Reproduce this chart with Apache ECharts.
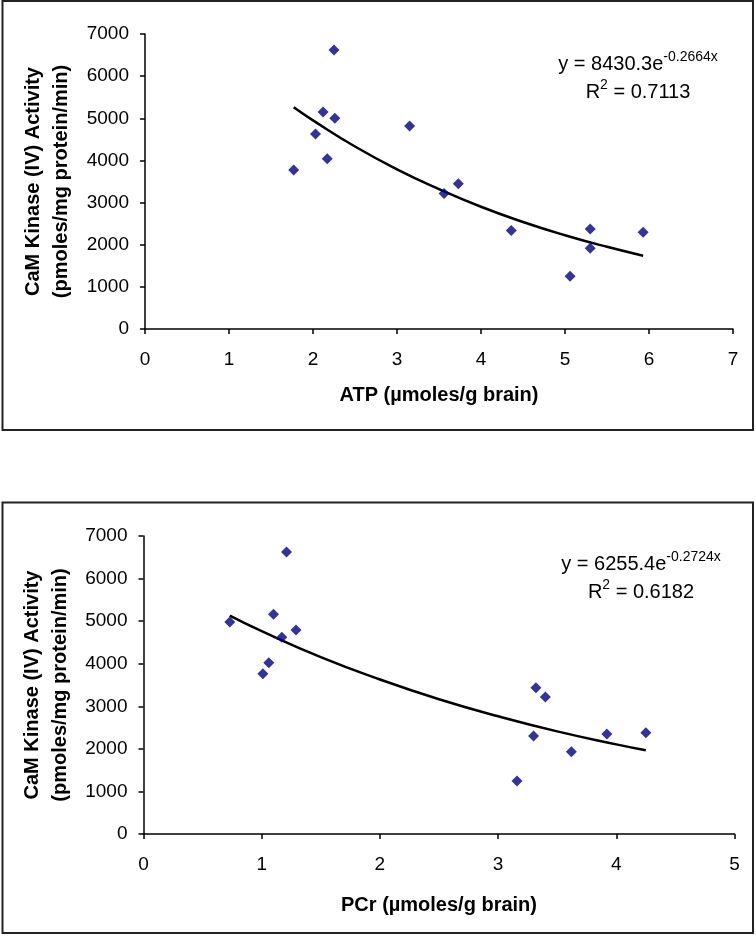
<!DOCTYPE html>
<html>
<head>
<meta charset="utf-8">
<script src="https://cdn.jsdelivr.net/npm/echarts@6/dist/echarts.min.js"></script>
<style>
html,body{margin:0;padding:0;background:#fff;}
#chart{width:756px;height:936px;}
</style>
</head>
<body>
<div id="chart"></div>
<script>
// ---- Data ----
const atp = [1.77, 2.25, 2.12, 2.26, 2.03, 2.17, 3.15, 3.56, 3.73, 4.36, 5.30, 5.30, 5.06, 5.93];
const activityAtp = [3770, 6620, 5150, 5000, 4625, 4040, 4815, 3215, 3445, 2335, 2370, 1915, 1250, 2295];

const pcr = [0.73, 1.21, 1.10, 1.29, 1.17, 1.06, 1.01, 3.32, 3.40, 3.30, 3.62, 3.16, 3.92, 4.25];
const activityPcr = [4980, 6625, 5160, 4790, 4620, 4025, 3765, 3437, 3218, 2302, 1933, 1245, 2349, 2380];

// trend lines
const atpTrendX = [1.77, 2.0, 2.5, 3.0, 3.5, 4.0, 4.5, 5.0, 5.5, 5.93];
const atpTrendY = [5260, 4950, 4330, 3790, 3320, 2900, 2540, 2225, 1950, 1740];
const pcrTrendX = [0.73, 1.0, 1.5, 2.0, 2.5, 3.0, 3.5, 4.0, 4.25];
const pcrTrendY = [5130, 4765, 4155, 3630, 3165, 2765, 2410, 2105, 1965];

const atpEquation = ['y = 8430.3e', '-0.2664x', '0.7113'];
const pcrEquation = ['y = 6255.4e', '-0.2724x', '0.6182'];

const xNameAtp = 'ATP (µmoles/g brain)';
const xNamePcr = 'PCr (µmoles/g brain)';
const yName = 'CaM Kinase (IV) Activity\n(pmoles/mg protein/min)';

// ---- Chart ----
const FONT = '"Liberation Sans", Arial, sans-serif';
const pairs = (xs, ys) => xs.map((x, i) => [x, ys[i]]);

function xAxis(gridIndex, max, name, nameGap) {
  return {
    type: 'value', gridIndex, min: 0, max, interval: 1,
    name, nameLocation: 'middle', nameGap,
    nameTextStyle: {fontFamily: FONT, fontSize: 20, fontWeight: 'bold', color: '#000'},
    axisLine: {show: true, lineStyle: {color: '#000', width: 1.5}},
    axisTick: {show: true, length: 5, lineStyle: {color: '#000', width: 1.5}},
    axisLabel: {fontFamily: FONT, fontSize: 19, color: '#000', margin: 21, formatter: v => String(v)},
    splitLine: {show: false}
  };
}
function yAxis(gridIndex, nameGap) {
  return {
    type: 'value', gridIndex, min: 0, max: 7000, interval: 1000,
    name: yName, nameLocation: 'middle', nameGap,
    nameTextStyle: {fontFamily: FONT, fontSize: 20, fontWeight: 'bold', color: '#000', lineHeight: 28},
    axisLine: {show: true, lineStyle: {color: '#000', width: 1.5}},
    axisTick: {show: true, length: 5, lineStyle: {color: '#000', width: 1.5}},
    axisLabel: {fontFamily: FONT, fontSize: 19, color: '#000', margin: 16, formatter: v => String(v)},
    splitLine: {show: false}
  };
}
function equation(eq, cx, top) {
  return {
    type: 'text', x: cx, y: top, z: 10,
    style: {
      text: '{n|' + eq[0] + '}{s|' + eq[1] + '}\n{n|R}{s|2}{n| = ' + eq[2] + '}',
      align: 'center', verticalAlign: 'top',
      rich: {
        n: {fontFamily: FONT, fontSize: 20, color: '#000', lineHeight: 28, verticalAlign: 'middle', align: 'center'},
        s: {fontFamily: FONT, fontSize: 14, color: '#000', lineHeight: 14, verticalAlign: 'top', align: 'center'}
      }
    }
  };
}

const chart = echarts.init(document.getElementById('chart'), null, {renderer: 'canvas'});
chart.setOption({
  backgroundColor: '#fff',
  animation: false,
  grid: [
    {left: 145, top: 34, width: 588, height: 295},
    {left: 143.5, top: 536, width: 591, height: 298}
  ],
  xAxis: [xAxis(0, 7, xNameAtp, 56), xAxis(1, 5, xNamePcr, 61)],
  yAxis: [yAxis(0, 67), yAxis(1, 66)],
  graphic: [
    {type: 'rect', shape: {x: 2.5, y: 1, width: 750.5, height: 429}, style: {fill: 'none', stroke: '#222', lineWidth: 2}},
    {type: 'rect', shape: {x: 2.5, y: 502.5, width: 750.5, height: 430.5}, style: {fill: 'none', stroke: '#222', lineWidth: 2}},
    equation(atpEquation, 638, 50),
    equation(pcrEquation, 641, 550)
  ],
  series: [
    {type: 'line', xAxisIndex: 0, yAxisIndex: 0, data: pairs(atpTrendX, atpTrendY), smooth: true, showSymbol: false, lineStyle: {color: '#000', width: 2.5}, z: 2},
    {type: 'scatter', xAxisIndex: 0, yAxisIndex: 0, data: pairs(atp, activityAtp), symbol: 'diamond', symbolSize: [11, 11], itemStyle: {color: '#00007f'}, z: 3},
    {type: 'line', xAxisIndex: 1, yAxisIndex: 1, data: pairs(pcrTrendX, pcrTrendY), smooth: true, showSymbol: false, lineStyle: {color: '#000', width: 2.5}, z: 2},
    {type: 'scatter', xAxisIndex: 1, yAxisIndex: 1, data: pairs(pcr, activityPcr), symbol: 'diamond', symbolSize: [11, 11], itemStyle: {color: '#00007f'}, z: 3}
  ]
});
</script>
</body>
</html>
